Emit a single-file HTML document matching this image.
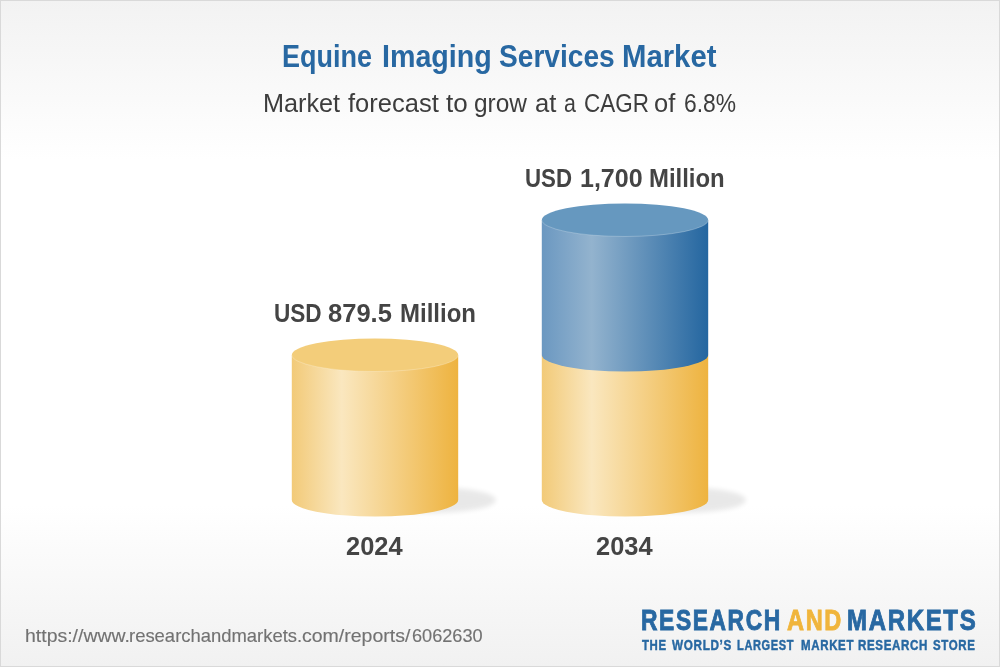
<!DOCTYPE html>
<html><head><meta charset="utf-8">
<style>
html,body{margin:0;padding:0;}
body{width:1000px;height:667px;overflow:hidden;position:relative;font-family:"Liberation Sans",sans-serif;
background:linear-gradient(to bottom,#f2f2f2 0px,#ffffff 160px,#ffffff 505px,#f1f1f1 667px);}
#frame{position:absolute;left:0;top:0;width:998px;height:665px;border:1px solid #d9d9d9;}
.t{position:absolute;white-space:nowrap;line-height:1;transform-origin:0 0;}
svg{position:absolute;left:0;top:0;}
</style></head>
<body>
<div id="frame"></div>
<svg width="1000" height="667" viewBox="0 0 1000 667">
<defs>
<linearGradient id="gy" x1="0" x2="1" y1="0" y2="0">
<stop offset="0" stop-color="#f2ca78"/>
<stop offset="0.30" stop-color="#fae7bf"/>
<stop offset="1" stop-color="#eeb33f"/>
</linearGradient>
<linearGradient id="gb" x1="0" x2="1" y1="0" y2="0">
<stop offset="0" stop-color="#6b98c1"/>
<stop offset="0.30" stop-color="#93b3ce"/>
<stop offset="1" stop-color="#2466a0"/>
</linearGradient>
<filter id="blur" x="-50%" y="-50%" width="200%" height="200%"><feGaussianBlur stdDeviation="2.5"/></filter>
</defs>
<!-- shadows -->
<ellipse cx="430" cy="500" rx="66" ry="13" fill="#000" opacity="0.085" filter="url(#blur)"/>
<ellipse cx="680" cy="500" rx="66" ry="13" fill="#000" opacity="0.085" filter="url(#blur)"/>
<!-- cylinder 1 -->
<path d="M291.8 355 L291.8 500 A83.2 16.5 0 0 0 458.2 500 L458.2 355 Z" fill="url(#gy)"/>
<ellipse cx="375" cy="355" rx="83.2" ry="16.5" fill="#f3cd7a"/>
<path d="M291.8 355 A83.2 16.5 0 0 0 458.2 355" fill="none" stroke="#fff" stroke-opacity="0.3" stroke-width="0.8"/>
<!-- cylinder 2 -->
<path d="M541.8 355 L541.8 500 A83.2 16.5 0 0 0 708.2 500 L708.2 355 Z" fill="url(#gy)"/>
<path d="M541.8 220 L541.8 355 A83.2 16.5 0 0 0 708.2 355 L708.2 220 Z" fill="url(#gb)"/>
<ellipse cx="625" cy="220" rx="83.2" ry="16.5" fill="#6698bf"/>
<path d="M541.8 220 A83.2 16.5 0 0 0 708.2 220" fill="none" stroke="#fff" stroke-opacity="0.3" stroke-width="0.8"/>
</svg>
<div class="t" style="left:282.46px;top:41px;font-size:31px;font-weight:bold;color:#2868a2;transform:scaleX(0.8713);">Equine</div>
<div class="t" style="left:381.65px;top:41px;font-size:31px;font-weight:bold;color:#2868a2;transform:scaleX(0.9235);">Imaging</div>
<div class="t" style="left:498.59px;top:41px;font-size:31px;font-weight:bold;color:#2868a2;transform:scaleX(0.9071);">Services</div>
<div class="t" style="left:622.11px;top:41px;font-size:31px;font-weight:bold;color:#2868a2;transform:scaleX(0.9449);">Market</div>
<div class="t" style="left:263.08px;top:91px;font-size:25px;color:#3d3d3d;transform:scaleX(1.0093);">Market</div>
<div class="t" style="left:348.00px;top:91px;font-size:25px;color:#3d3d3d;transform:scaleX(1.0202);">forecast</div>
<div class="t" style="left:446.00px;top:91px;font-size:25px;color:#3d3d3d;transform:scaleX(1.0400);">to</div>
<div class="t" style="left:474.12px;top:91px;font-size:25px;color:#3d3d3d;transform:scaleX(0.9778);">grow</div>
<div class="t" style="left:535.38px;top:91px;font-size:25px;color:#3d3d3d;transform:scaleX(1.0250);">at</div>
<div class="t" style="left:563.95px;top:91px;font-size:25px;color:#3d3d3d;transform:scaleX(0.8538);">a</div>
<div class="t" style="left:583.60px;top:91px;font-size:25px;color:#3d3d3d;transform:scaleX(0.8986);">CAGR</div>
<div class="t" style="left:654.28px;top:91px;font-size:25px;color:#3d3d3d;transform:scaleX(1.0200);">of</div>
<div class="t" style="left:683.89px;top:91px;font-size:25px;color:#3d3d3d;transform:scaleX(0.9127);">6.8%</div>
<div class="t" style="left:274.43px;top:301px;font-size:25.9px;font-weight:bold;color:#444444;transform:scaleX(0.8717);">USD</div>
<div class="t" style="left:328.21px;top:301px;font-size:25.9px;font-weight:bold;color:#444444;transform:scaleX(0.9859);">879.5</div>
<div class="t" style="left:399.77px;top:301px;font-size:25.9px;font-weight:bold;color:#444444;transform:scaleX(0.9263);">Million</div>
<div class="t" style="left:525.04px;top:166px;font-size:25.9px;font-weight:bold;color:#444444;transform:scaleX(0.8604);">USD</div>
<div class="t" style="left:579.93px;top:166px;font-size:25.9px;font-weight:bold;color:#444444;transform:scaleX(0.9667);">1,700</div>
<div class="t" style="left:649.38px;top:166px;font-size:25.9px;font-weight:bold;color:#444444;transform:scaleX(0.9238);">Million</div>
<div class="t" style="left:346.02px;top:534px;font-size:25.9px;font-weight:bold;color:#444444;transform:scaleX(0.9825);">2024</div>
<div class="t" style="left:596.02px;top:534px;font-size:25.9px;font-weight:bold;color:#444444;transform:scaleX(0.9825);">2034</div>
<div class="t" style="left:640.91px;top:606px;font-size:28.8px;font-weight:bold;color:#2868a2;letter-spacing:2px;-webkit-text-stroke:0.9px #2868a2;transform:scaleX(0.7931);">RESEARCH</div>
<div class="t" style="left:787.30px;top:606px;font-size:28.8px;font-weight:bold;color:#f0b53c;letter-spacing:2px;-webkit-text-stroke:0.9px #f0b53c;transform:scaleX(0.8182);">AND</div>
<div class="t" style="left:847.17px;top:606px;font-size:28.8px;font-weight:bold;color:#2868a2;letter-spacing:2px;-webkit-text-stroke:0.9px #2868a2;transform:scaleX(0.8333);">MARKETS</div>
<div class="t" style="left:642.40px;top:638px;font-size:14.2px;font-weight:bold;color:#2868a2;letter-spacing:0.8px;-webkit-text-stroke:0.45px #2868a2;transform:scaleX(0.8033);">THE</div>
<div class="t" style="left:671.80px;top:638px;font-size:14.2px;font-weight:bold;color:#2868a2;letter-spacing:0.8px;-webkit-text-stroke:0.45px #2868a2;transform:scaleX(0.8264);">WORLD’S</div>
<div class="t" style="left:736.60px;top:638px;font-size:14.2px;font-weight:bold;color:#2868a2;letter-spacing:0.8px;-webkit-text-stroke:0.45px #2868a2;transform:scaleX(0.7795);">LARGEST</div>
<div class="t" style="left:800.50px;top:638px;font-size:14.2px;font-weight:bold;color:#2868a2;letter-spacing:0.8px;-webkit-text-stroke:0.45px #2868a2;transform:scaleX(0.8108);">MARKET</div>
<div class="t" style="left:858.40px;top:638px;font-size:14.2px;font-weight:bold;color:#2868a2;letter-spacing:0.8px;-webkit-text-stroke:0.45px #2868a2;transform:scaleX(0.8141);">RESEARCH</div>
<div class="t" style="left:932.80px;top:638px;font-size:14.2px;font-weight:bold;color:#2868a2;letter-spacing:0.8px;-webkit-text-stroke:0.45px #2868a2;transform:scaleX(0.8096);">STORE</div>
<div class="t" style="left:24.78px;top:625.7px;font-size:19px;color:#727272;-webkit-text-stroke:0.15px #727272;transform:scaleX(1.0240);">https://www.</div>
<div class="t" style="left:129.03px;top:625.7px;font-size:19px;color:#727272;-webkit-text-stroke:0.15px #727272;transform:scaleX(0.9705);">researchandmarkets.</div>
<div class="t" style="left:302.00px;top:625.7px;font-size:19px;color:#727272;-webkit-text-stroke:0.15px #727272;transform:scaleX(1.0264);">com/reports/</div>
<div class="t" style="left:411.65px;top:625.7px;font-size:19px;color:#727272;-webkit-text-stroke:0.15px #727272;transform:scaleX(0.9548);">6062630</div>
</body></html>
